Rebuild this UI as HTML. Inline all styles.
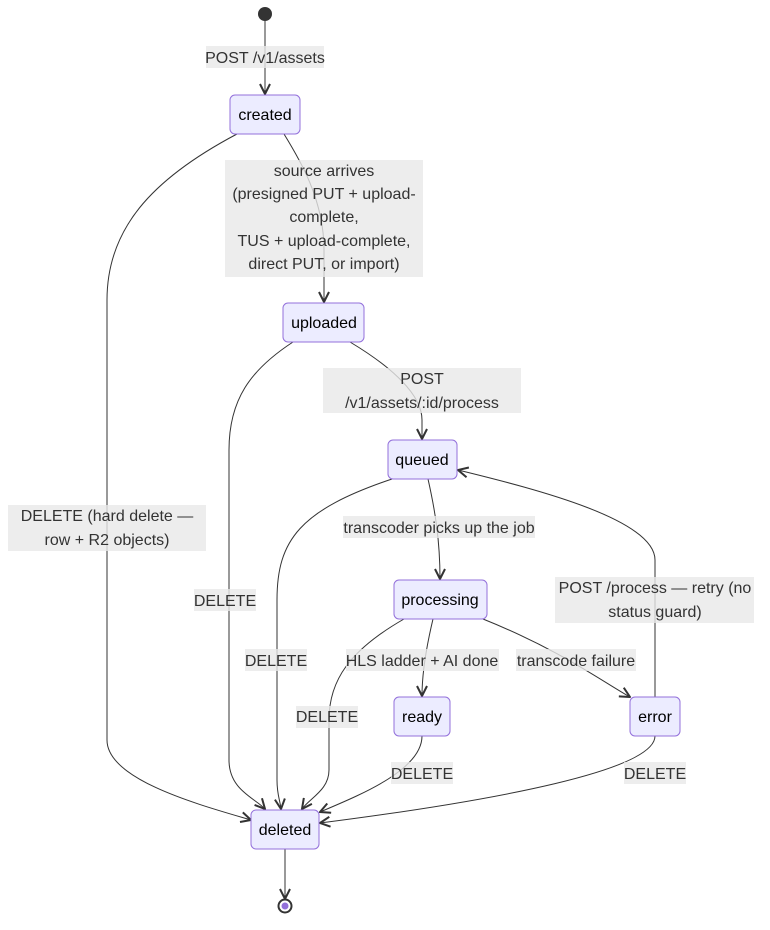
<!DOCTYPE html>
<html><head><meta charset="utf-8"><style>
html,body{margin:0;padding:0;background:#fff;}
svg{display:block;font-family:"Liberation Sans",sans-serif;}
.n{fill:#ECECFF;stroke:#9370DB;stroke-width:1;}
.e{fill:none;stroke:#333;stroke-width:1;}
.lb{fill:rgba(232,232,232,0.8);}
text{font-size:16px;fill:#333;text-anchor:middle;}
.nt{fill:#000;}
</style></head><body>
<svg width="770" height="930" viewBox="0 0 770 930">
<defs>
<marker id="a" viewBox="0 0 12 12" refX="11" refY="6" markerWidth="12" markerHeight="12" orient="auto" markerUnits="userSpaceOnUse">
<path d="M1,1 L11,6 L1,11" fill="none" stroke="#333" stroke-width="2"/>
</marker>
</defs>
<!-- edges -->
<path class="e" marker-end="url(#a)" d="M265,21 L265,94"/>
<path class="e" marker-end="url(#a)" d="M237,134 C150,180 107,230 107,300 L107,740 C107,780 200,805 251,820"/>
<path class="e" marker-end="url(#a)" d="M284,134 C300,160 324,200 324,250 L324,302"/>
<path class="e" marker-end="url(#a)" d="M293,342 C250,370 229,400 229,450 L229,760 C229,790 255,798 265,809"/>
<path class="e" marker-end="url(#a)" d="M350,342 C380,360 422,390 422,420 L422,439"/>
<path class="e" marker-end="url(#a)" d="M392,479 C300,510 277,540 277,600 L277,780 C277,795 280,800 281,809"/>
<path class="e" marker-end="url(#a)" d="M428,479 C435,510 440,540 440,579"/>
<path class="e" marker-end="url(#a)" d="M404,619 C350,650 329,680 329,720 L329,770 C329,790 310,798 302,809"/>
<path class="e" marker-end="url(#a)" d="M433,619 C428,640 422,670 422,696"/>
<path class="e" marker-end="url(#a)" d="M483,619 C560,650 600,680 630,697"/>
<path class="e" marker-end="url(#a)" d="M655,697 L655,560 C655,520 540,490 458,470"/>
<path class="e" marker-end="url(#a)" d="M422,736 C422,770 360,795 320,812"/>
<path class="e" marker-end="url(#a)" d="M655,736 C655,770 500,800 320,823"/>
<path class="e" marker-end="url(#a)" d="M285,849 L285,899"/>
<!-- labels -->
<rect class="lb" x="206" y="46" width="118" height="22"/><text x="265" y="63">POST /v1/assets</text>
<rect class="lb" x="225" y="160" width="198" height="117"/>
<text x="324" y="176">source arrives</text><text x="324" y="199">(presigned PUT + upload-</text><text x="324" y="222">complete,</text><text x="324" y="246">TUS + upload-complete,</text><text x="324" y="269">direct PUT, or import)</text>
<rect class="lb" x="323" y="368" width="198" height="45"/><text x="422" y="384">POST</text><text x="422" y="408">/v1/assets/:id/process</text>
<rect class="lb" x="8" y="505" width="198" height="46"/><text x="107" y="521">DELETE (hard delete —</text><text x="107" y="545">row + R2 objects)</text>
<rect class="lb" x="194" y="589" width="62" height="22"/><text x="225" y="606">DELETE</text>
<rect class="lb" x="343" y="516" width="192" height="22"/><text x="439" y="533">transcoder picks up the job</text>
<rect class="lb" x="555" y="577" width="199" height="46"/><text x="655" y="593">POST /process — retry (no</text><text x="655" y="617">status guard)</text>
<rect class="lb" x="245" y="649" width="62" height="22"/><text x="276" y="666">DELETE</text>
<rect class="lb" x="346" y="649" width="153" height="22"/><text x="422" y="666">HLS ladder + AI done</text>
<rect class="lb" x="516" y="649" width="120" height="22"/><text x="576" y="666">transcode failure</text>
<rect class="lb" x="296" y="706" width="62" height="22"/><text x="327" y="722">DELETE</text>
<rect class="lb" x="391" y="762" width="62" height="22"/><text x="422" y="779">DELETE</text>
<rect class="lb" x="624" y="762" width="62" height="22"/><text x="655" y="779">DELETE</text>
<!-- nodes -->
<circle cx="265" cy="14" r="7" fill="#333"/>
<rect class="n" x="230" y="95" width="70" height="39" rx="5"/><text class="nt" x="265" y="120">created</text>
<rect class="n" x="283" y="303" width="81" height="39" rx="5"/><text class="nt" x="324" y="328">uploaded</text>
<rect class="n" x="388" y="440" width="69" height="39" rx="5"/><text class="nt" x="422" y="465">queued</text>
<rect class="n" x="394" y="580" width="93" height="39" rx="5"/><text class="nt" x="440" y="605">processing</text>
<rect class="n" x="394" y="697" width="56" height="39" rx="5"/><text class="nt" x="422" y="722">ready</text>
<rect class="n" x="630" y="697" width="50" height="39" rx="5"/><text class="nt" x="655" y="722">error</text>
<rect class="n" x="251" y="810" width="68" height="39" rx="5"/><text class="nt" x="285" y="835">deleted</text>
<circle cx="285" cy="906" r="6.5" fill="#fff" stroke="#333" stroke-width="2"/>
<circle cx="285" cy="906" r="3.5" fill="#9370DB"/>
</svg>
</body></html>
